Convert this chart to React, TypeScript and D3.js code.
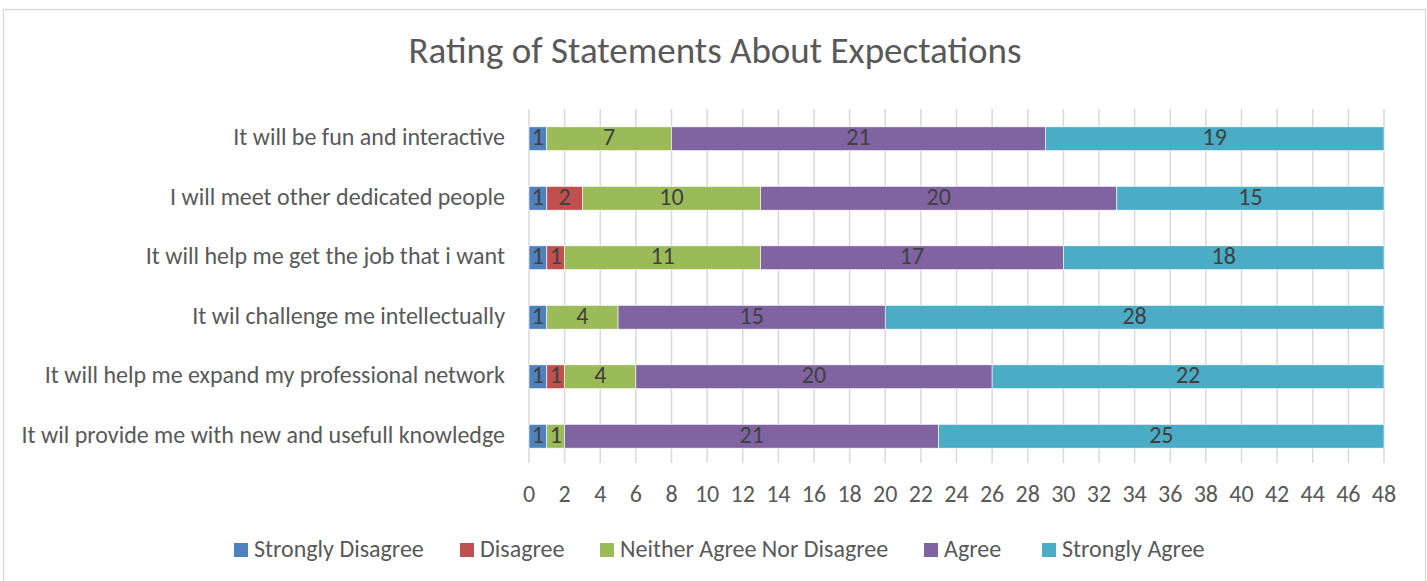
import React from "react";
import * as d3 from "d3";

const categories = [
  "It will be fun and interactive",
  "I will meet other dedicated people",
  "It will help me get the job that i want",
  "It wil challenge me intellectually",
  "It will help me expand my professional network",
  "It wil provide me with new and usefull knowledge",
];
const seriesNames = ["Strongly Disagree", "Disagree", "Neither Agree Nor Disagree", "Agree", "Strongly Agree"];
const stronglyDisagree = [1, 1, 1, 1, 1, 1];
const disagree = [0, 2, 1, 0, 1, 0];
const neither = [7, 10, 11, 4, 4, 1];
const agree = [21, 20, 17, 15, 20, 21];
const stronglyAgree = [19, 15, 18, 28, 22, 25];
const xTicks = d3.range(0, 49, 2);
const colors = ["#4F81BD", "#C0504D", "#9BBB59", "#8064A2", "#4BACC6"];

const W = 1427, H = 581;
const FONT = "Carlito, Calibri, 'Liberation Sans', sans-serif";
const FS = 24;

export default function App() {
  const seriesValues = [stronglyDisagree, disagree, neither, agree, stronglyAgree];
  const rows = categories.map((c, i) => {
    const r: any = { cat: c };
    seriesNames.forEach((s, k) => (r[s] = seriesValues[k][i]));
    return r;
  });
  const stacked = d3.stack<any>().keys(seriesNames)(rows);
  const x = d3.scaleLinear().domain([0, 48]).range([529, 1384]);
  const y = d3.scaleBand().domain(categories).range([109, 466]).paddingInner(0.6).paddingOuter(0.3);

  const legendX = [234, 460, 600, 924, 1042];

  return (
    <svg width={W} height={H} style={{ position: "absolute", left: 0, top: 0 }} fontFamily={FONT}>
      <rect x={0} y={0} width={W} height={H} fill="#fff" />
      <rect x={3.5} y={9.5} width={W - 5} height={H + 10} fill="#fff" stroke="#d9d9d9" strokeWidth={1.3} />
      <text x={715} y={54} textAnchor="middle" dominantBaseline="middle" fontSize={37} fill="#595959" fontWeight={300}>
        Rating of Statements About Expectations
      </text>
      {xTicks.map((t) => (
        <g key={t}>
          <line x1={x(t)} x2={x(t)} y1={109} y2={463} stroke="#d9d9d9" strokeWidth={1.5} />
          <text x={x(t)} y={496} textAnchor="middle" dominantBaseline="middle" fontSize={FS} fill="#595959">
            {t}
          </text>
        </g>
      ))}
      {categories.map((c) => (
        <text key={c} x={505} y={(y(c) as number) + y.bandwidth() / 2 + 1} textAnchor="end" dominantBaseline="middle" fontSize={FS} fill="#595959">
          {c}
        </text>
      ))}
      {stacked.map((s, k) => (
        <g key={s.key}>
          {s.map((d, i) =>
            d[1] - d[0] > 0 ? (
              <g key={i}>
                <rect
                  x={x(d[0])}
                  y={y(categories[i]) as number}
                  width={x(d[1]) - x(d[0])}
                  height={y.bandwidth()}
                  fill={colors[k]}
                  stroke="#fff"
                  strokeWidth={0.6}
                />
                <text
                  x={(x(d[0]) + x(d[1])) / 2}
                  y={(y(categories[i]) as number) + y.bandwidth() / 2 + 1}
                  textAnchor="middle"
                  dominantBaseline="middle"
                  fontSize={FS}
                  fill="#404040"
                >
                  {d[1] - d[0]}
                </text>
              </g>
            ) : null
          )}
        </g>
      ))}
      {seriesNames.map((s, k) => (
        <g key={s}>
          <rect x={legendX[k]} y={543} width={14} height={14} fill={colors[k]} />
          <text x={legendX[k] + 20} y={551} dominantBaseline="middle" fontSize={FS} fill="#595959">
            {s}
          </text>
        </g>
      ))}
    </svg>
  );
}
